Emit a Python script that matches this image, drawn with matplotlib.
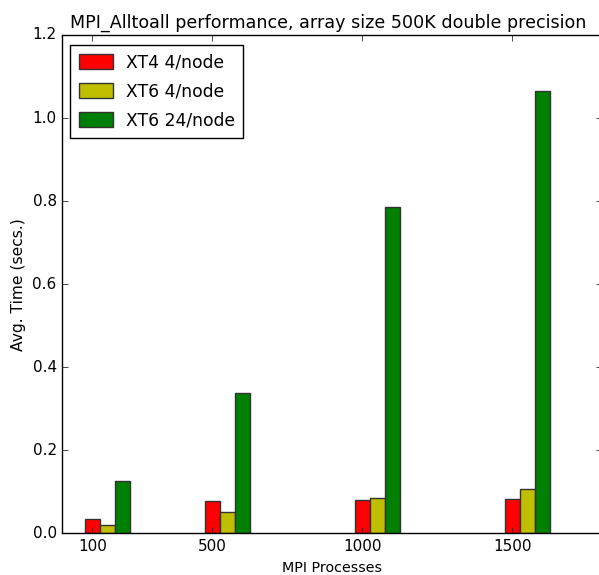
import matplotlib
matplotlib.use("Agg")
import matplotlib.pyplot as plt
import numpy as np

plt.style.use("classic")

processes = [100, 500, 1000, 1500]
xt4_4 = [0.034, 0.078, 0.081, 0.083]
xt6_4 = [0.020, 0.051, 0.086, 0.106]
xt6_24 = [0.126, 0.339, 0.785, 1.065]
labels = ["XT4 4/node", "XT6 4/node", "XT6 24/node"]
colors = ["r", "y", "g"]
width = 50

fig = plt.figure(figsize=(5.99, 5.75), dpi=100, facecolor="white")
ax = fig.add_axes([62.3 / 599, 41.7 / 575, 540 / 599, 498.3 / 575])

x = np.array(processes, dtype=float)
for i, (vals, lab, c) in enumerate(zip([xt4_4, xt6_4, xt6_24], labels, colors)):
    ax.bar(x + i * width, vals, width, align="center", color=c, label=lab,
           edgecolor="#333333", linewidth=1)

ax.set_xlim(0, 1800)
ax.set_ylim(0, 1.2)
ax.set_xticks(processes)
ax.set_xticklabels([str(p) for p in processes])
ax.set_yticks(np.arange(0, 1.21, 0.2))
ax.tick_params(labelsize=11)
ax.set_xlabel("MPI Processes", fontsize=10.3)
ax.set_ylabel("Avg. Time (secs.)", fontsize=11.2)
ax.set_title("MPI_Alltoall performance, array size 500K double precision",
             fontsize=12.6, x=0.4917)
ax.legend(loc="upper left", fontsize=12.3, labelspacing=0.65, handleheight=0.95,
          handlelength=2.0, borderaxespad=0.45, borderpad=0.5, handletextpad=0.75,
          bbox_to_anchor=(0, 0.996))

fig.savefig("out.png", dpi=100, facecolor="white")
